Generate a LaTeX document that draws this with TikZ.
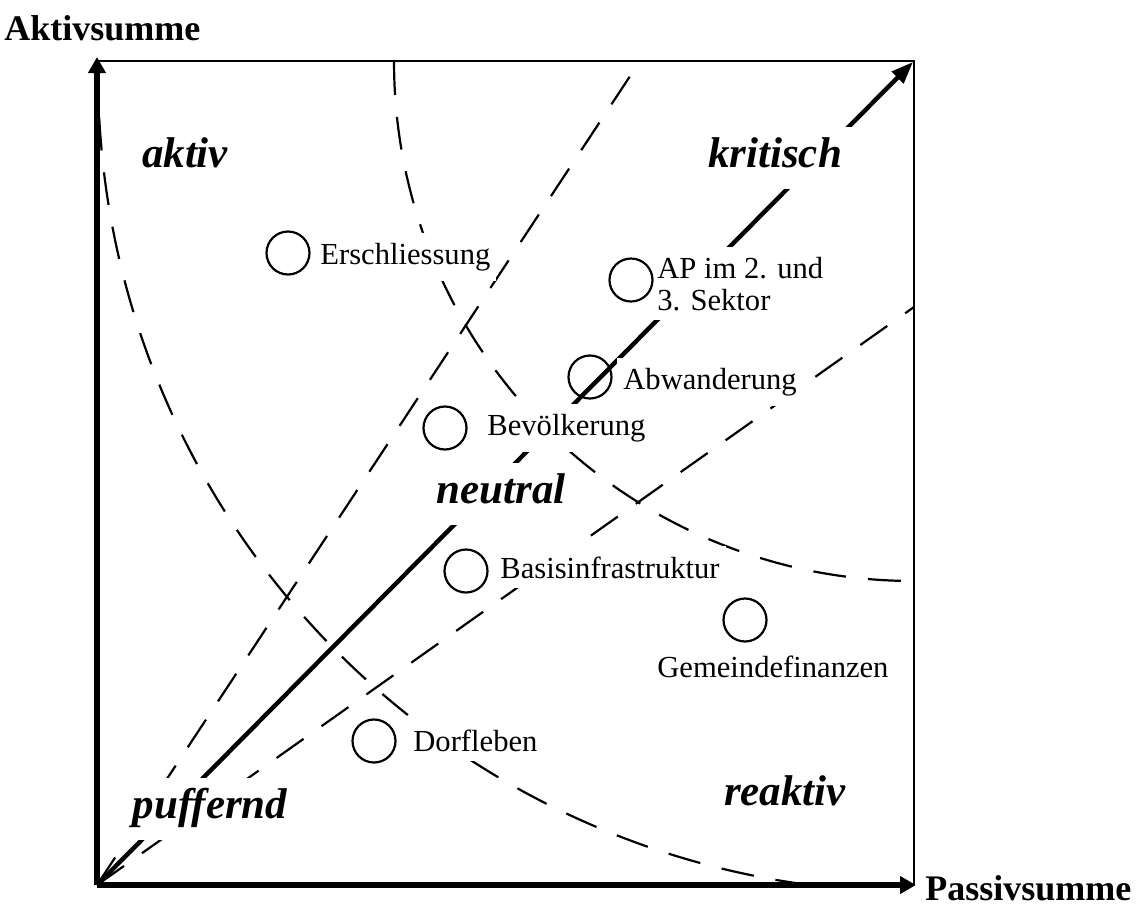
\documentclass[tikz,border=0pt]{standalone}
\usepackage{fontspec}
\setmainfont{Liberation Serif}
\usetikzlibrary{arrows.meta,calc}
\begin{document}
\begin{tikzpicture}[x=0.5pt,y=-0.5pt,
  dsh/.style={line width=1.1pt, dash pattern=on 16.5pt off 11pt},
  axisline/.style={line width=2.8pt, -{Triangle[length=8pt,width=8.5pt]}},
  frameline/.style={line width=1.4pt},
  diagline/.style={line width=2.2pt, -{Triangle[length=11pt,width=8pt]}},
  item/.style={circle, draw, line width=1.1pt, minimum size=21.5pt, inner sep=0pt},
  lbl/.style={font=\fontsize{15.3}{18}\selectfont, fill=white, inner xsep=3pt, inner ysep=5pt, anchor=base west},
  region/.style={font=\fontsize{21.5}{24}\selectfont\bfseries\itshape, fill=white, inner xsep=5pt, inner ysep=5pt, text depth=6pt, anchor=base},
  axlbl/.style={font=\fontsize{18}{20}\selectfont\bfseries, inner sep=0pt, anchor=base west}
]
\useasboundingbox (0,0) rectangle (1136,907);
% key points
\coordinate (O) at (97,885);
\coordinate (YT) at (97,57);
\coordinate (XT) at (916,885);
\coordinate (TL) at (97,61);
\coordinate (TR) at (914,61);
\coordinate (BR) at (914,885);
\coordinate (DT) at (913,62);
\coordinate (ST) at (640,61);
\coordinate (FT) at (914,307);

% dashed boundaries
\draw[dsh] plot[domain=180.8:97.5, samples=80, smooth] ({916+818*cos(\x)},{74+818*sin(\x)});
\draw[dsh] plot[domain=180:90, samples=60, smooth] ({913+519*cos(\x)},{62+519*sin(\x)});
\draw[dsh] (O) -- (ST);
\draw[dsh] (O) -- (FT);

% diagonal
\draw[diagline] (O) -- (DT);

% frame and axes
\draw[frameline] (TL) -- (TR) -- (BR);
\draw[axisline] (O) -- (YT);
\draw[axisline] (O) -- (XT);

% axis labels
\node[axlbl] (ya) at (4,40) {Aktivsumme};
\node[axlbl] (xa) at (925,900) {Passivsumme};

% region labels
\node[region] (raktiv) at (185,167) {aktiv};
\node[region] (rkrit) at (775,167) {kritisch};
\node[region] (rneut) at (501,503) {neutral};
\node[region] (rpuff) at (210,818) {puffernd};
\node[region] (rreak) at (785,805) {reaktiv};

% item labels
\node[lbl] (t1) at (314,264) {Erschliessung};
\node[lbl] (t2a) at (651,278) {AP im 2. und};
\node[lbl] (t2b) at (651,310) {3. Sektor};
\node[lbl] (t3) at (617,389) {Abwanderung};
\node[lbl] (t4) at (481,435) {Bevölkerung};
\node[lbl] (t5) at (494,578) {Basisinfrastruktur};
\node[lbl] (t6) at (651,677) {Gemeindefinanzen};
\node[lbl] (t7) at (407,751) {Dorfleben};

% item circles
\node[item] (c1) at (288,253) {};
\node[item] (c2) at (631,280) {};
\node[item] (c3) at (590,377) {};
\node[item] (c4) at (445,428) {};
\node[item] (c5) at (466,571) {};
\node[item] (c6) at (745,620) {};
\node[item] (c7) at (374,741) {};
\end{tikzpicture}
\end{document}
